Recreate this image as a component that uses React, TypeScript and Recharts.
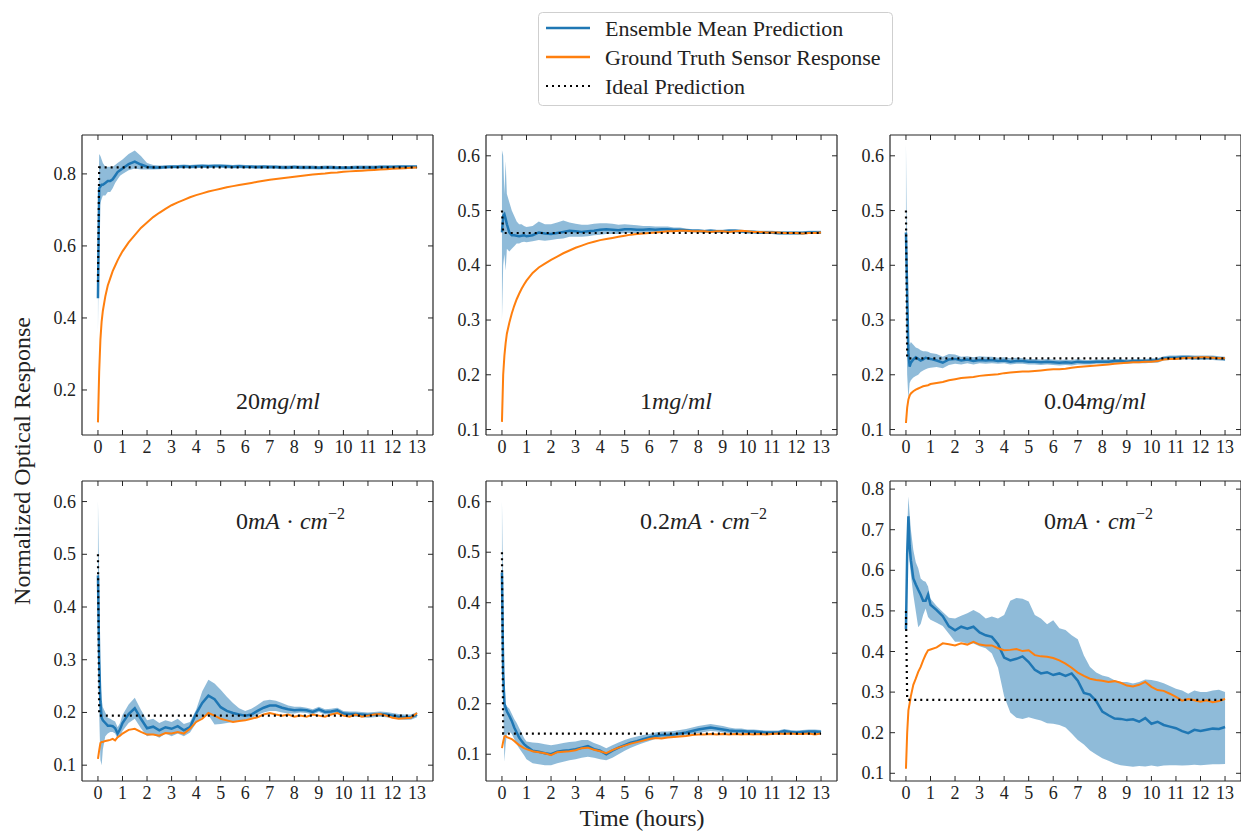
import React from 'react';
import { ComposedChart, Area, Line, XAxis, YAxis } from 'recharts';

// ---------- shared time axis (hours) ----------
const T = [
  0, 0.05, 0.1, 0.15, 0.2, 0.3, 0.4, 0.5, 0.6, 0.7, 0.8, 0.9, 1.0,
  1.25, 1.5, 1.75, 2, 2.25, 2.5, 2.75, 3, 3.25, 3.5, 3.75, 4, 4.25, 4.5, 4.75, 5,
  5.25, 5.5, 5.75, 6, 6.25, 6.5, 6.75, 7, 7.25, 7.5, 7.75, 8, 8.25, 8.5, 8.75, 9,
  9.25, 9.5, 9.75, 10, 10.25, 10.5, 10.75, 11, 11.25, 11.5, 11.75, 12, 12.25, 12.5, 12.75, 13,
];
const X_TICKS = [0, 1, 2, 3, 4, 5, 6, 7, 8, 9, 10, 11, 12, 13];

// ---------- Panel 1: 20 mg/ml ----------
const P1_MEAN = [
  0.455, 0.76, 0.765, 0.77, 0.77, 0.775, 0.78, 0.78, 0.785, 0.795, 0.805, 0.81, 0.815,
  0.827, 0.834, 0.826, 0.82, 0.818, 0.818, 0.819, 0.82, 0.82, 0.821, 0.82, 0.821, 0.822, 0.821, 0.822, 0.822,
  0.821, 0.82, 0.821, 0.82, 0.82, 0.819, 0.82, 0.819, 0.819, 0.818, 0.818, 0.819, 0.818, 0.818, 0.818, 0.817,
  0.818, 0.818, 0.817, 0.817, 0.817, 0.818, 0.818, 0.818, 0.818, 0.819, 0.819, 0.819, 0.82, 0.82, 0.82, 0.82,
];
const P1_LO = [
  0.36, 0.70, 0.72, 0.73, 0.74, 0.74, 0.75, 0.75, 0.76, 0.775, 0.785, 0.795, 0.80,
  0.81, 0.815, 0.812, 0.812, 0.812, 0.813, 0.814, 0.815, 0.815, 0.816, 0.815, 0.816, 0.817, 0.816, 0.817, 0.817,
  0.816, 0.815, 0.816, 0.815, 0.815, 0.814, 0.815, 0.814, 0.814, 0.813, 0.813, 0.814, 0.813, 0.813, 0.813, 0.812,
  0.813, 0.813, 0.812, 0.812, 0.812, 0.813, 0.813, 0.813, 0.813, 0.814, 0.814, 0.814, 0.815, 0.815, 0.815, 0.815,
];
const P1_HI = [
  0.58, 0.855, 0.85, 0.84, 0.83, 0.82, 0.82, 0.82, 0.82, 0.825, 0.83, 0.835, 0.84,
  0.855, 0.865, 0.85, 0.83, 0.825, 0.823, 0.824, 0.825, 0.825, 0.826, 0.825, 0.826, 0.827, 0.826, 0.827, 0.827,
  0.826, 0.825, 0.826, 0.825, 0.825, 0.824, 0.825, 0.824, 0.824, 0.823, 0.823, 0.824, 0.823, 0.823, 0.823, 0.822,
  0.823, 0.823, 0.822, 0.822, 0.822, 0.823, 0.823, 0.823, 0.823, 0.824, 0.824, 0.824, 0.825, 0.825, 0.825, 0.825,
];
const P1_TRUTH = [
  0.11, 0.25, 0.34, 0.39, 0.42, 0.46, 0.49, 0.51, 0.53, 0.545, 0.56, 0.573, 0.585,
  0.61, 0.63, 0.65, 0.665, 0.68, 0.692, 0.703, 0.713, 0.721, 0.728, 0.735, 0.741, 0.746, 0.751, 0.755, 0.759,
  0.763, 0.766, 0.769, 0.772, 0.775, 0.778, 0.781, 0.784, 0.786, 0.788, 0.79, 0.792, 0.794, 0.796, 0.798, 0.8,
  0.801, 0.803, 0.804, 0.806, 0.807, 0.808, 0.809, 0.81, 0.811, 0.812, 0.813, 0.814, 0.815, 0.816, 0.817, 0.818,
];

// ---------- Panel 2: 1 mg/ml ----------
const P2_MEAN = [
  0.46, 0.49, 0.493, 0.485, 0.475, 0.46, 0.455, 0.455, 0.454, 0.453, 0.454, 0.455, 0.453,
  0.455, 0.46, 0.458, 0.457, 0.459, 0.461, 0.463, 0.462, 0.461, 0.462, 0.463, 0.465, 0.466, 0.465, 0.464, 0.466,
  0.466, 0.465, 0.465, 0.466, 0.465, 0.466, 0.466, 0.465, 0.465, 0.464, 0.463, 0.463, 0.462, 0.463, 0.462, 0.462,
  0.463, 0.463, 0.462, 0.461, 0.461, 0.46, 0.46, 0.46, 0.459, 0.459, 0.459, 0.459, 0.459, 0.46, 0.46, 0.46,
];
const P2_LO = [
  0.30, 0.40, 0.42, 0.39, 0.43, 0.425, 0.43, 0.435, 0.44, 0.44, 0.442, 0.443, 0.442,
  0.444, 0.446, 0.445, 0.446, 0.448, 0.449, 0.452, 0.452, 0.452, 0.453, 0.455, 0.456, 0.457, 0.457, 0.457, 0.459,
  0.459, 0.459, 0.459, 0.46, 0.46, 0.461, 0.461, 0.461, 0.461, 0.461, 0.46, 0.46, 0.459, 0.46, 0.459, 0.459,
  0.46, 0.46, 0.459, 0.458, 0.458, 0.457, 0.457, 0.457, 0.456, 0.456, 0.456, 0.456, 0.456, 0.457, 0.457, 0.457,
];
const P2_HI = [
  0.61, 0.60, 0.53, 0.59, 0.53, 0.515, 0.50, 0.49, 0.48, 0.475, 0.475, 0.472, 0.47,
  0.472, 0.48, 0.475, 0.475, 0.478, 0.482, 0.478, 0.476, 0.474, 0.474, 0.476, 0.477, 0.477, 0.476, 0.474, 0.475,
  0.474, 0.473, 0.472, 0.472, 0.471, 0.471, 0.471, 0.469, 0.469, 0.467, 0.466, 0.466, 0.465, 0.466, 0.465, 0.465,
  0.466, 0.466, 0.465, 0.464, 0.464, 0.463, 0.463, 0.463, 0.462, 0.462, 0.462, 0.462, 0.462, 0.463, 0.463, 0.463,
];
const P2_TRUTH = [
  0.114, 0.2, 0.235, 0.258, 0.275, 0.295, 0.312, 0.326, 0.338, 0.348, 0.357, 0.365, 0.372,
  0.386, 0.396, 0.403, 0.41, 0.416, 0.422, 0.427, 0.432, 0.436, 0.44, 0.443, 0.446, 0.448, 0.45, 0.452, 0.454,
  0.456, 0.457, 0.458, 0.459, 0.46, 0.461, 0.462, 0.462, 0.463, 0.463, 0.462, 0.462, 0.462, 0.461, 0.462, 0.462,
  0.461, 0.462, 0.463, 0.462, 0.461, 0.461, 0.46, 0.46, 0.46, 0.459, 0.459, 0.459, 0.458, 0.459, 0.459, 0.46,
];

// ---------- Panel 3: 0.04 mg/ml ----------
const P3_MEAN = [
  0.46, 0.35, 0.24, 0.215, 0.222, 0.228, 0.232, 0.229, 0.226, 0.228, 0.231, 0.23, 0.229,
  0.226, 0.222, 0.228, 0.229, 0.226, 0.228, 0.225, 0.227, 0.226, 0.227, 0.225, 0.226, 0.224, 0.225, 0.225, 0.224,
  0.224, 0.223, 0.224, 0.223, 0.222, 0.223, 0.222, 0.224, 0.223, 0.223, 0.224, 0.224, 0.224, 0.225, 0.225, 0.224,
  0.225, 0.225, 0.225, 0.226, 0.226, 0.23, 0.231, 0.231, 0.232, 0.232, 0.231, 0.231, 0.231, 0.231, 0.23, 0.229,
];
const P3_LO = [
  0.36, 0.20, 0.155, 0.185, 0.19, 0.195, 0.198, 0.20, 0.205, 0.208, 0.21, 0.212, 0.213,
  0.214, 0.212, 0.218, 0.22, 0.219, 0.221, 0.219, 0.221, 0.22, 0.221, 0.22, 0.221, 0.219, 0.22, 0.22, 0.219,
  0.219, 0.218, 0.219, 0.218, 0.217, 0.218, 0.217, 0.219, 0.219, 0.219, 0.22, 0.22, 0.22, 0.221, 0.221, 0.22,
  0.221, 0.221, 0.221, 0.222, 0.222, 0.226, 0.227, 0.227, 0.228, 0.228, 0.227, 0.227, 0.227, 0.227, 0.226, 0.225,
];
const P3_HI = [
  0.62, 0.40, 0.26, 0.255, 0.26, 0.255, 0.25, 0.248, 0.245, 0.243, 0.243, 0.242, 0.24,
  0.238, 0.233, 0.238, 0.237, 0.233, 0.234, 0.232, 0.234, 0.233, 0.233, 0.231, 0.232, 0.23, 0.231, 0.23, 0.229,
  0.229, 0.228, 0.229, 0.228, 0.227, 0.228, 0.227, 0.229, 0.227, 0.227, 0.228, 0.228, 0.228, 0.229, 0.229, 0.228,
  0.229, 0.229, 0.229, 0.23, 0.23, 0.234, 0.235, 0.235, 0.236, 0.236, 0.235, 0.235, 0.235, 0.235, 0.234, 0.233,
];
const P3_TRUTH = [
  0.112, 0.14, 0.155, 0.162, 0.166, 0.17, 0.173, 0.175, 0.177, 0.179, 0.18, 0.181, 0.183,
  0.185, 0.187, 0.19, 0.192, 0.194, 0.195, 0.196, 0.198, 0.199, 0.2, 0.201, 0.203, 0.204, 0.205, 0.206, 0.206,
  0.207, 0.208, 0.209, 0.21, 0.21, 0.211, 0.213, 0.214, 0.215, 0.216, 0.217, 0.218, 0.219, 0.22, 0.221, 0.222,
  0.223, 0.223, 0.224, 0.224, 0.225, 0.228, 0.229, 0.229, 0.23, 0.231, 0.231, 0.232, 0.232, 0.231, 0.23, 0.23,
];

// ---------- Panel 4: 0 mA·cm^-2 ----------
const P4_MEAN = [
  0.46, 0.30, 0.22, 0.19, 0.185, 0.18, 0.175, 0.175, 0.174, 0.17, 0.16, 0.168, 0.18,
  0.197, 0.208, 0.188, 0.17, 0.173, 0.166, 0.172, 0.169, 0.174, 0.166, 0.172, 0.198, 0.218, 0.232, 0.225, 0.21,
  0.203, 0.199, 0.196, 0.194, 0.196, 0.203, 0.209, 0.213, 0.213, 0.209, 0.206, 0.204, 0.205, 0.204, 0.201, 0.206,
  0.201, 0.202, 0.204, 0.198, 0.197, 0.197, 0.196, 0.195, 0.196, 0.197, 0.196, 0.194, 0.192, 0.191, 0.191, 0.196,
];
const P4_LO = [
  0.33, 0.20, 0.11, 0.10, 0.13, 0.155, 0.16, 0.163, 0.163, 0.16, 0.15, 0.155, 0.165,
  0.18, 0.188, 0.17, 0.155, 0.158, 0.152, 0.16, 0.155, 0.16, 0.155, 0.162, 0.18, 0.19, 0.195, 0.177, 0.178,
  0.18, 0.182, 0.185, 0.186, 0.189, 0.195, 0.2, 0.203, 0.203, 0.2, 0.198, 0.198, 0.2, 0.199, 0.196, 0.201,
  0.196, 0.197, 0.199, 0.193, 0.192, 0.192, 0.191, 0.19, 0.191, 0.192, 0.191, 0.189, 0.187, 0.186, 0.186, 0.191,
];
const P4_HI = [
  0.60, 0.45, 0.26, 0.225, 0.21, 0.2, 0.19, 0.188, 0.185, 0.183, 0.172, 0.18, 0.195,
  0.215, 0.228, 0.205, 0.185, 0.188, 0.18, 0.185, 0.182, 0.188, 0.178, 0.182, 0.205, 0.24, 0.262, 0.255, 0.243,
  0.23, 0.218, 0.208, 0.203, 0.207, 0.214, 0.222, 0.224, 0.222, 0.218, 0.213, 0.211, 0.211, 0.209, 0.206, 0.211,
  0.206, 0.207, 0.209, 0.203, 0.202, 0.202, 0.201, 0.2, 0.201, 0.202, 0.201, 0.199, 0.197, 0.196, 0.196, 0.201,
];
const P4_TRUTH = [
  0.112, 0.128, 0.142, 0.144, 0.144, 0.146, 0.147, 0.148, 0.15, 0.147, 0.153, 0.156, 0.16,
  0.167, 0.169, 0.163, 0.158, 0.158, 0.156, 0.161, 0.16, 0.163, 0.16, 0.169, 0.182, 0.188, 0.199, 0.194, 0.188,
  0.185, 0.182, 0.184, 0.185, 0.188, 0.191, 0.196, 0.199, 0.196, 0.194, 0.196, 0.192, 0.194, 0.192, 0.196, 0.194,
  0.192, 0.196, 0.199, 0.194, 0.192, 0.196, 0.192, 0.194, 0.196, 0.197, 0.194, 0.19, 0.188, 0.189, 0.19, 0.199,
];

// ---------- Panel 5: 0.2 mA·cm^-2 ----------
const P5_MEAN = [
  0.46, 0.26, 0.20, 0.192, 0.185, 0.176, 0.166, 0.153, 0.143, 0.133, 0.126, 0.12, 0.116,
  0.107, 0.105, 0.102, 0.1, 0.105, 0.107, 0.108, 0.11, 0.113, 0.116, 0.11, 0.107, 0.1, 0.107, 0.113, 0.118,
  0.123, 0.126, 0.13, 0.133, 0.136, 0.138, 0.138, 0.139, 0.141, 0.143, 0.146, 0.149, 0.151, 0.153, 0.151, 0.149,
  0.147, 0.146, 0.146, 0.145, 0.145, 0.144, 0.143, 0.143, 0.143, 0.146, 0.144, 0.143, 0.144, 0.145, 0.145, 0.144,
];
const P5_LO = [
  0.33, 0.20, 0.085, 0.12, 0.14, 0.145, 0.14, 0.13, 0.12, 0.112, 0.105, 0.098, 0.09,
  0.082, 0.08, 0.078, 0.078, 0.082, 0.085, 0.088, 0.09, 0.093, 0.095, 0.093, 0.09, 0.088, 0.093, 0.1, 0.107,
  0.113, 0.118, 0.122, 0.126, 0.13, 0.132, 0.132, 0.133, 0.135, 0.137, 0.14, 0.142, 0.144, 0.146, 0.145, 0.143,
  0.142, 0.141, 0.141, 0.141, 0.141, 0.14, 0.139, 0.139, 0.139, 0.142, 0.14, 0.139, 0.14, 0.141, 0.141, 0.14,
];
const P5_HI = [
  0.60, 0.42, 0.25, 0.20, 0.195, 0.19, 0.18, 0.17, 0.162, 0.152, 0.142, 0.132, 0.125,
  0.123, 0.122, 0.12, 0.118, 0.12, 0.122, 0.124, 0.125, 0.128, 0.128, 0.122, 0.118, 0.112, 0.118, 0.123, 0.128,
  0.132, 0.135, 0.138, 0.14, 0.143, 0.145, 0.145, 0.146, 0.148, 0.15, 0.153, 0.156, 0.158, 0.16, 0.158, 0.156,
  0.153, 0.151, 0.151, 0.149, 0.149, 0.148, 0.147, 0.147, 0.147, 0.15, 0.148, 0.147, 0.148, 0.149, 0.149, 0.148,
];
const P5_TRUTH = [
  0.112, 0.125, 0.135, 0.136, 0.134, 0.132, 0.13, 0.126, 0.122, 0.118, 0.115, 0.112, 0.11,
  0.106, 0.104, 0.102, 0.098, 0.104, 0.105, 0.106, 0.108, 0.112, 0.113, 0.109, 0.106, 0.102, 0.108, 0.113, 0.117,
  0.121, 0.124, 0.127, 0.13, 0.132, 0.131, 0.133, 0.134, 0.135, 0.136, 0.138, 0.139, 0.139, 0.14, 0.139, 0.14,
  0.139, 0.14, 0.139, 0.14, 0.139, 0.14, 0.139, 0.14, 0.141, 0.14, 0.141, 0.14, 0.14, 0.141, 0.139, 0.141,
];

// ---------- Panel 6: 0 mA·cm^-2 ----------
const P6_MEAN = [
  0.455, 0.64, 0.733, 0.66, 0.625, 0.58, 0.565, 0.552, 0.54, 0.525, 0.525, 0.54, 0.515,
  0.502, 0.487, 0.462, 0.452, 0.461, 0.456, 0.461, 0.447, 0.44, 0.436, 0.418, 0.385, 0.378, 0.382, 0.388, 0.374,
  0.355, 0.346, 0.349, 0.342, 0.346, 0.34, 0.346, 0.328, 0.298, 0.294, 0.278, 0.252, 0.243, 0.235, 0.234, 0.231,
  0.233, 0.227, 0.236, 0.222, 0.227, 0.219, 0.215, 0.211, 0.204, 0.199, 0.207, 0.204, 0.207, 0.21, 0.209, 0.214,
];
const P6_LO = [
  0.44, 0.58, 0.654, 0.62, 0.59, 0.54, 0.50, 0.46, 0.468, 0.49, 0.506, 0.485, 0.478,
  0.471, 0.463, 0.444, 0.424, 0.424, 0.42, 0.42, 0.413, 0.408, 0.395, 0.36, 0.29, 0.25, 0.237, 0.234, 0.238,
  0.234, 0.23, 0.223, 0.222, 0.219, 0.213, 0.198, 0.182, 0.171, 0.156, 0.146, 0.137, 0.131, 0.124, 0.12, 0.118,
  0.116, 0.118, 0.117, 0.119, 0.117, 0.119, 0.12, 0.12, 0.119, 0.12, 0.121, 0.12, 0.121, 0.122, 0.122, 0.123,
];
const P6_HI = [
  0.50, 0.70, 0.782, 0.74, 0.70, 0.65, 0.62, 0.605, 0.58, 0.574, 0.572, 0.56, 0.53,
  0.512, 0.497, 0.483, 0.481, 0.488, 0.494, 0.502, 0.494, 0.481, 0.486, 0.481, 0.49, 0.525, 0.532, 0.53, 0.523,
  0.49, 0.481, 0.467, 0.477, 0.457, 0.453, 0.44, 0.43, 0.39, 0.362, 0.348, 0.341, 0.337, 0.329, 0.325, 0.325,
  0.321, 0.325, 0.331, 0.33, 0.327, 0.322, 0.315, 0.308, 0.304, 0.296, 0.304, 0.30, 0.30, 0.304, 0.306, 0.30,
];
const P6_TRUTH = [
  0.111, 0.2, 0.255, 0.272, 0.29, 0.318, 0.333, 0.35, 0.362, 0.378, 0.392, 0.403, 0.405,
  0.41, 0.42, 0.418, 0.415, 0.42, 0.417, 0.424, 0.417, 0.415, 0.415, 0.408, 0.403, 0.404, 0.406, 0.401, 0.403,
  0.391, 0.388, 0.387, 0.384, 0.378, 0.37, 0.36, 0.348, 0.34, 0.333, 0.33, 0.328, 0.325, 0.327, 0.323, 0.316,
  0.314, 0.318, 0.325, 0.313, 0.305, 0.303, 0.296, 0.288, 0.279, 0.283, 0.28, 0.276, 0.28, 0.275, 0.278, 0.283,
];

// ideal prediction: starting value and settled level per panel
const IDEAL_START = 0.5;
const IDEAL_LEVELS = [0.818, 0.459, 0.23, 0.194, 0.141, 0.281];

const Y_TICKS_A = [0.2, 0.4, 0.6, 0.8];
const Y_TICKS_B = [0.1, 0.2, 0.3, 0.4, 0.5, 0.6];
const Y_TICKS_C = [0.1, 0.2, 0.3, 0.4, 0.5, 0.6, 0.7, 0.8];

const FONT = '"Liberation Serif", "Times New Roman", serif';
const AX = '#262626';
const BLUE = '#1f77b4';
const ORANGE = '#ff7f0e';
const PW = 351;
const PH = 300;
const TICK_FS = 18;

function BottomTick(props: any) {
  const { x, y, payload } = props;
  return (
    <g>
      <line x1={x} y1={y} x2={x} y2={y - 5} stroke={AX} strokeWidth={1} />
      <text x={x} y={y + 18} textAnchor="middle" fontFamily={FONT} fontSize={TICK_FS} fill="#222">
        {payload.value}
      </text>
    </g>
  );
}
function TopTick(props: any) {
  const { x, y } = props;
  return <line x1={x} y1={y} x2={x} y2={y + 5} stroke={AX} strokeWidth={1} />;
}
function LeftTick(props: any) {
  const { x, y, payload } = props;
  return (
    <g>
      <line x1={x} y1={y} x2={x + 5} y2={y} stroke={AX} strokeWidth={1} />
      <text x={x - 6} y={y + 6} textAnchor="end" fontFamily={FONT} fontSize={TICK_FS} fill="#222">
        {Number(payload.value).toFixed(1)}
      </text>
    </g>
  );
}
function RightTick(props: any) {
  const { x, y } = props;
  return <line x1={x} y1={y} x2={x - 5} y2={y} stroke={AX} strokeWidth={1} />;
}

type PanelDef = {
  mean: number[];
  lo: number[];
  hi: number[];
  truth: number[];
  ideal: number;
  yDomain: [number, number];
  yTicks: number[];
  left: number;
  top: number;
};

const PANELS: PanelDef[] = [
  { mean: P1_MEAN, lo: P1_LO, hi: P1_HI, truth: P1_TRUTH, ideal: IDEAL_LEVELS[0], yDomain: [0.075, 0.908], yTicks: Y_TICKS_A, left: 81.5, top: 135 },
  { mean: P2_MEAN, lo: P2_LO, hi: P2_HI, truth: P2_TRUTH, ideal: IDEAL_LEVELS[1], yDomain: [0.09, 0.638], yTicks: Y_TICKS_B, left: 485.5, top: 135 },
  { mean: P3_MEAN, lo: P3_LO, hi: P3_HI, truth: P3_TRUTH, ideal: IDEAL_LEVELS[2], yDomain: [0.09, 0.638], yTicks: Y_TICKS_B, left: 889.5, top: 135 },
  { mean: P4_MEAN, lo: P4_LO, hi: P4_HI, truth: P4_TRUTH, ideal: IDEAL_LEVELS[3], yDomain: [0.07, 0.639], yTicks: Y_TICKS_B, left: 81.5, top: 481 },
  { mean: P5_MEAN, lo: P5_LO, hi: P5_HI, truth: P5_TRUTH, ideal: IDEAL_LEVELS[4], yDomain: [0.047, 0.641], yTicks: Y_TICKS_B, left: 485.5, top: 481 },
  { mean: P6_MEAN, lo: P6_LO, hi: P6_HI, truth: P6_TRUTH, ideal: IDEAL_LEVELS[5], yDomain: [0.081, 0.82], yTicks: Y_TICKS_C, left: 889.5, top: 481 },
];

function Panel({ p }: { p: PanelDef }) {
  const data = T.map((t, i) => ({
    t,
    band: [p.lo[i], p.hi[i]],
    mean: p.mean[i],
    truth: p.truth[i],
    ideal: i === 0 ? IDEAL_START : p.ideal,
  }));
  const axisLine = { stroke: AX, strokeWidth: 1.2 };
  return (
    <div style={{ position: 'absolute', left: p.left - 60, top: p.top - 10 }}>
      <ComposedChart width={60 + PW + 1} height={10 + PH + 30} data={data} margin={{ top: 9, right: 0, bottom: 0, left: 0 }}>
        <XAxis xAxisId="b" type="number" dataKey="t" domain={[-0.65, 13.65]} ticks={X_TICKS} interval={0}
          tickSize={0} tickMargin={0} tickLine={false} axisLine={axisLine} tick={<BottomTick />} height={30} allowDataOverflow />
        <XAxis xAxisId="tp" orientation="top" type="number" dataKey="t" domain={[-0.65, 13.65]} ticks={X_TICKS} interval={0}
          tickSize={0} tickMargin={0} tickLine={false} axisLine={axisLine} tick={<TopTick />} height={1} allowDataOverflow />
        <YAxis yAxisId="l" type="number" domain={p.yDomain} ticks={p.yTicks} interval={0}
          tickSize={0} tickMargin={0} tickLine={false} axisLine={axisLine} tick={<LeftTick />} width={60} allowDataOverflow />
        <YAxis yAxisId="r" orientation="right" type="number" domain={p.yDomain} ticks={p.yTicks} interval={0}
          tickSize={0} tickMargin={0} tickLine={false} axisLine={axisLine} tick={<RightTick />} width={1} allowDataOverflow />
        <Area xAxisId="b" yAxisId="l" type="linear" dataKey="band" stroke="none" fill={BLUE} fillOpacity={0.5}
          isAnimationActive={false} dot={false} activeDot={false} />
        <Line xAxisId="b" yAxisId="l" type="linear" dataKey="mean" stroke={BLUE} strokeWidth={2.5}
          dot={false} activeDot={false} isAnimationActive={false} />
        <Line xAxisId="b" yAxisId="l" type="linear" dataKey="truth" stroke={ORANGE} strokeWidth={2}
          dot={false} activeDot={false} isAnimationActive={false} />
        <Line xAxisId="b" yAxisId="l" type="linear" dataKey="ideal" stroke="#000" strokeWidth={2.2} strokeDasharray="2 4"
          dot={false} activeDot={false} isAnimationActive={false} />
      </ComposedChart>
    </div>
  );
}

const LEGEND_ITEMS = ['Ensemble Mean Prediction', 'Ground Truth Sensor Response', 'Ideal Prediction'];

function Overlay() {
  const lx = (p: PanelDef) => p.left + 0.44 * PW;
  const it = { fontStyle: 'italic' as const };
  const sz = 24;
  return (
    <svg width={1241} height={832} style={{ position: 'absolute', left: 0, top: 0, pointerEvents: 'none' }}
      fontFamily={FONT} fill="#222">
      {/* legend */}
      <rect x={538.5} y={12.5} width={354} height={93} rx={4} fill="#fff" stroke="#cfcfcf" strokeWidth={1} />
      <line x1={546} y1={28} x2={590} y2={28} stroke={BLUE} strokeWidth={2.5} />
      <line x1={546} y1={57} x2={590} y2={57} stroke={ORANGE} strokeWidth={2.5} />
      <line x1={546} y1={86} x2={590} y2={86} stroke="#000" strokeWidth={2.2} strokeDasharray="2 4" />
      <text x={605} y={35.5} fontSize={22}>{LEGEND_ITEMS[0]}</text>
      <text x={605} y={65} fontSize={22}>{LEGEND_ITEMS[1]}</text>
      <text x={605} y={93.5} fontSize={22}>{LEGEND_ITEMS[2]}</text>

      {/* axis labels */}
      <text x={642} y={826} fontSize={24} textAnchor="middle">Time (hours)</text>
      <text x={30} y={461} fontSize={24} textAnchor="middle" transform="rotate(-90, 30, 461)">Normalized Optical Response</text>

      {/* panel annotations */}
      <text x={lx(PANELS[0])} y={409} fontSize={sz}>20<tspan {...it}>mg</tspan>/<tspan {...it}>ml</tspan></text>
      <text x={lx(PANELS[1])} y={409} fontSize={sz}>1<tspan {...it}>mg</tspan>/<tspan {...it}>ml</tspan></text>
      <text x={lx(PANELS[2])} y={409} fontSize={sz}>0.04<tspan {...it}>mg</tspan>/<tspan {...it}>ml</tspan></text>
      <text x={lx(PANELS[3])} y={529} fontSize={sz}>0<tspan {...it}>mA</tspan> · <tspan {...it}>cm</tspan><tspan dy={-10} fontSize={16}>−2</tspan></text>
      <text x={lx(PANELS[4])} y={529} fontSize={sz}>0.2<tspan {...it}>mA</tspan> · <tspan {...it}>cm</tspan><tspan dy={-10} fontSize={16}>−2</tspan></text>
      <text x={lx(PANELS[5])} y={529} fontSize={sz}>0<tspan {...it}>mA</tspan> · <tspan {...it}>cm</tspan><tspan dy={-10} fontSize={16}>−2</tspan></text>
    </svg>
  );
}

export default function App() {
  return (
    <div style={{ position: 'absolute', left: 0, top: 0, width: 1241, height: 832, background: '#fff', overflow: 'hidden' }}>
      {PANELS.map((p, i) => (
        <Panel key={i} p={p} />
      ))}
      <Overlay />
    </div>
  );
}
